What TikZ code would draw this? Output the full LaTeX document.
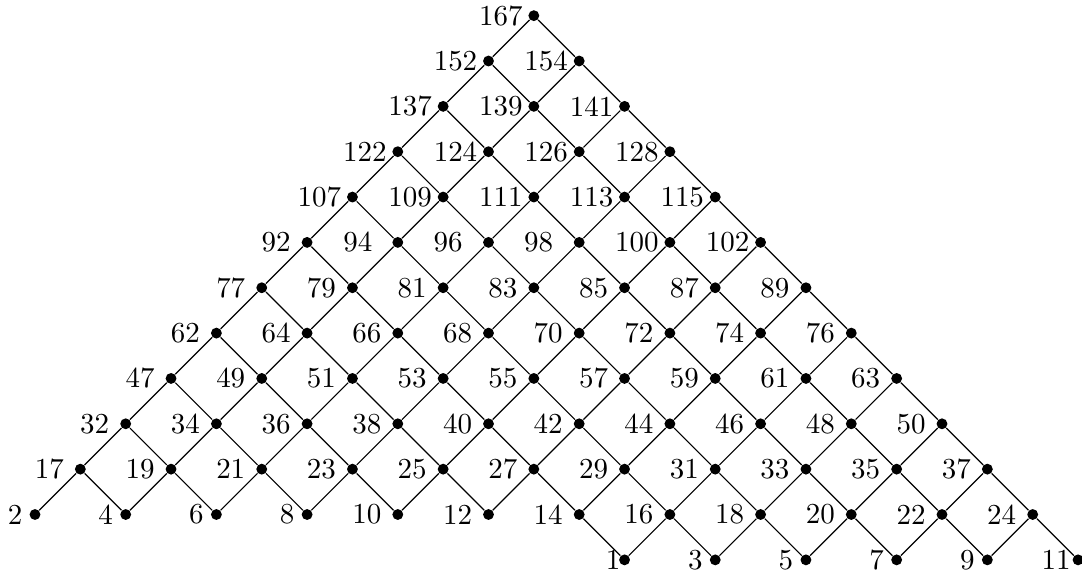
\documentclass[tikz,border=0pt]{standalone}
\begin{document}
\begin{tikzpicture}[x=0.345pt,y=-0.345pt,
  dot/.style={circle,fill=black,inner sep=0pt,minimum size=3.75pt},
  lab/.style={inner sep=0pt,anchor=center},
  lnk/.style={draw=black,line width=0.4pt}]
\useasboundingbox (0,0) rectangle (1082,576);
% nodes of rows 0..11
\foreach \j in {0,...,11} {
  \pgfmathtruncatemacro\kmax{11-\j}
  \foreach \k in {0,...,\kmax} {
    \pgfmathtruncatemacro\i{\j+2*\k}
    \pgfmathtruncatemacro\v{2+14*\j+\i}
    \node[dot] (n\v) at ({35+45.35*\i},{514.5-45.35*\j}) {};
  }
}
% bottom row (j = -1)
\foreach \k in {0,...,5} {
  \pgfmathtruncatemacro\i{13+2*\k}
  \pgfmathtruncatemacro\v{\i-12}
  \node[dot] (n\v) at ({35+45.35*\i},{514.5+45.35}) {};
}
% labels and connectors
\foreach \j in {-1,...,11} {
  \ifnum\j<0
    \def\kmax{5}
  \else
    \pgfmathtruncatemacro\kmax{11-\j}
  \fi
  \foreach \k in {0,...,\kmax} {
    \ifnum\j<0
      \pgfmathtruncatemacro\i{13+2*\k}
    \else
      \pgfmathtruncatemacro\i{\j+2*\k}
    \fi
    \pgfmathtruncatemacro\v{2+14*\j+\i}
    \def\off{33}
    \ifnum\v<100 \def\off{31}\fi
    \ifnum\v<10 \def\off{20}\fi
    \ifnum\v=1 \def\off{11.5}\fi
    \ifnum\v=11 \def\off{22}\fi
    \ifnum\v=94 \def\off{40}\fi
    \ifnum\v=96 \def\off{40.5}\fi
    \ifnum\v=98 \def\off{40.5}\fi
    \node[lab] (l\v) at ({35+45.35*\i-\off},{514.5-45.35*\j}) {\v};
    % NE connector
    \pgfmathtruncatemacro\s{\i+\j}
    \ifnum\j<0
      \ifnum\i<22
        \pgfmathtruncatemacro\w{\v+15}
        \draw[lnk] (n\v) -- (n\w);
      \fi
    \else
      \ifnum\s<21
        \pgfmathtruncatemacro\w{\v+15}
        \draw[lnk] (n\v) -- (n\w);
      \fi
      % SE connector
      \ifnum\j>0
        \pgfmathtruncatemacro\w{\v-13}
        \draw[lnk] (n\v) -- (n\w);
      \else
        \ifnum\i>11
          \pgfmathtruncatemacro\w{\v-13}
          \draw[lnk] (n\v) -- (n\w);
        \fi
      \fi
    \fi
  }
}
\end{tikzpicture}
\end{document}
